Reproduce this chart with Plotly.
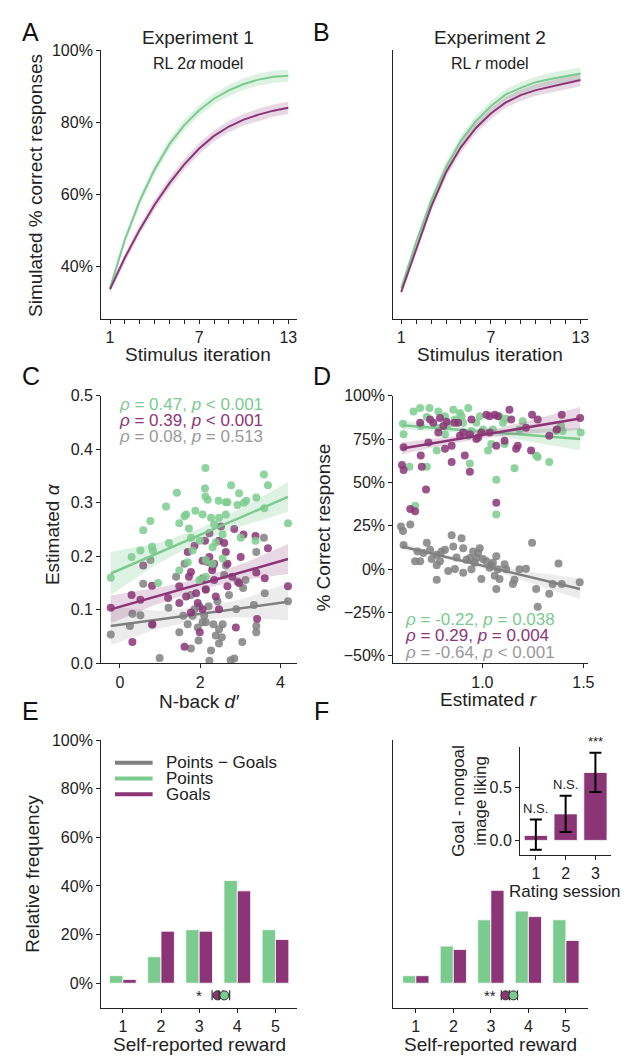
import plotly.graph_objects as go
import numpy as np

W, H = 629, 1056
def px(x): return x / W
def py(y): return 1 - y / H

GREEN = "#7bcb8e"; PURPLE = "#8b3577"; GRAY = "#808080"
GREEN_F = "rgba(123,203,142,0.25)"; PURPLE_F = "rgba(139,53,119,0.2)"; GRAY_F = "rgba(128,128,128,0.15)"
FONT = "Liberation Sans"
AX = "#222222"

# ---------------- Panel A / B data ----------------
iters = list(range(1, 14))
a_green = [34.0, 47.5, 58.3, 67.0, 74.0, 79.3, 83.4, 86.6, 88.9, 90.7, 91.9, 92.7, 93.0]
a_purple = [33.8, 42.5, 50.3, 57.2, 63.2, 68.4, 72.8, 76.3, 78.9, 80.8, 82.2, 83.3, 84.1]
b_green = [34.1, 46.8, 58.3, 67.7, 75.0, 80.4, 84.5, 87.8, 89.6, 91.2, 92.1, 92.9, 93.6]
b_purple = [33.0, 45.0, 56.6, 66.2, 73.2, 78.5, 82.5, 85.6, 87.6, 89.0, 90.0, 90.9, 91.8]
sem_ab = [1.0, 1.2, 1.3, 1.4, 1.5, 1.5, 1.5, 1.5, 1.6, 1.6, 1.7, 1.7, 1.7]
iter_ticktext = ["1", "", "", "", "", "", "7", "", "", "", "", "", "13"]
a_yticks = [40, 60, 80, 100]
a_yticktext = ["40%", "60%", "80%", "100%"]

# ---------------- Panel C data ----------------
c_green_x = [-0.23, 0.29, 0.51, 0.58, 0.76, 0.80, 1.15, 1.22, 1.42, 1.48, 1.61, 1.72, 1.65, 1.88, 1.77, 2.13, 2.12,
             2.13, 2.19, 2.06, 2.27, 2.46, 2.64, 2.68, 2.77, 2.97, 2.93, 3.09, 3.15, 3.40, 3.59, 3.69, 3.60, 4.19,
             2.47, 2.64, 1.99, 2.31, 2.39, 2.56, 3.01, 3.38, 1.69, 1.81, 2.14, 2.31, 2.56, 1.48, 0.95, 0.82, 2.14,
             1.98, 2.35]
c_green_y = [0.160, 0.199, 0.211, 0.249, 0.266, 0.218, 0.293, 0.225, 0.319, 0.262, 0.275, 0.252, 0.278, 0.285, 0.235,
             0.365, 0.327, 0.312, 0.306, 0.278, 0.272, 0.304, 0.301, 0.301, 0.333, 0.318, 0.296, 0.300, 0.304, 0.310,
             0.353, 0.333, 0.290, 0.262, 0.272, 0.278, 0.229, 0.217, 0.226, 0.241, 0.235, 0.229, 0.189, 0.211, 0.193,
             0.186, 0.196, 0.174, 0.150, 0.211, 0.162, 0.156, 0.260]
c_purple_x = [-0.23, 0.29, 0.31, 0.58, 0.51, 0.80, 0.81, 1.20, 1.48, 1.61, 1.69, 1.72, 1.77, 1.65, 1.86, 1.90, 1.94,
              2.06, 2.12, 2.23, 2.23, 2.30, 2.35, 2.35, 2.47, 2.52, 2.60, 2.64, 2.68, 2.68, 2.85, 3.01, 3.08, 2.89,
              3.38, 3.40, 3.42, 3.69, 3.61, 4.19, 1.99, 2.14, 2.39, 2.80, 1.48, 1.77, 2.47, 2.97, 2.06]
c_purple_y = [0.104, 0.128, 0.040, 0.183, 0.119, 0.145, 0.073, 0.122, 0.144, 0.031, 0.208, 0.162, 0.171, 0.125,
              0.220, 0.131, 0.113, 0.101, 0.229, 0.243, 0.199, 0.174, 0.186, 0.156, 0.229, 0.256, 0.225, 0.208,
              0.186, 0.144, 0.251, 0.199, 0.241, 0.067, 0.238, 0.170, 0.083, 0.215, 0.159, 0.144, 0.058, 0.138,
              0.125, 0.162, 0.113, 0.095, 0.101, 0.150, 0.192]
c_gray_x = [-0.23, 0.25, 0.31, 0.51, 0.58, 0.76, 0.80, 0.99, 1.21, 1.40, 1.48, 1.58, 1.61, 1.69, 1.77, 1.81, 1.86,
            1.94, 1.96, 1.98, 2.06, 2.10, 2.14, 2.19, 2.21, 2.23, 2.27, 2.31, 2.33, 2.39, 2.43, 2.47, 2.54, 2.56,
            2.60, 2.64, 2.72, 2.76, 2.85, 2.90, 2.93, 3.05, 3.07, 3.13, 3.34, 3.40, 3.40, 3.40, 3.59, 3.61, 4.19,
            1.77, 2.06, 2.14, 2.47]
c_gray_y = [0.054, 0.070, 0.093, 0.090, 0.149, 0.193, 0.072, 0.010, 0.104, 0.162, 0.058, 0.089, 0.186, 0.073, 0.128,
            0.089, 0.101, 0.067, 0.043, 0.107, 0.159, 0.089, 0.138, 0.189, 0.107, 0.005, 0.024, 0.180, 0.073, 0.052,
            0.116, 0.037, 0.049, 0.073, 0.165, 0.183, 0.128, 0.006, 0.009, 0.101, 0.153, 0.040, 0.141, 0.156, 0.109,
            0.208, 0.070, 0.058, 0.235, 0.131, 0.116, 0.028, 0.077, 0.077, 0.064]
c_fit_x = [-0.23, 4.19]
c_fit_green = [0.168, 0.311]
c_fit_purple = [0.101, 0.195]
c_fit_gray = [0.070, 0.115]
c_ci_x = [-0.23, 1.0, 2.0, 3.0, 4.19]
c_ci_green = [0.040, 0.018, 0.012, 0.016, 0.028]
c_ci_purple = [0.026, 0.014, 0.010, 0.014, 0.028]
c_ci_gray = [0.036, 0.016, 0.011, 0.016, 0.035]
c_yticks = [0.0, 0.1, 0.2, 0.3, 0.4, 0.5]
c_xticks = [0, 2, 4]

# ---------------- Panel D data ----------------
d_green_x = [0.607, 0.610, 0.639, 0.659, 0.692, 0.695, 0.725, 0.667, 0.725, 0.738, 0.774, 0.782, 0.815, 0.831,
             0.856, 0.889, 0.930, 0.905, 0.946, 0.938, 0.970, 0.987, 1.003, 1.028, 1.044, 1.052, 1.069, 1.069,
             1.085, 1.102, 1.110, 1.159, 1.184, 1.200, 1.266, 1.274, 1.331, 1.364, 1.389, 1.397, 1.487, 0.864,
             0.897, 0.782, 0.815, 0.930, 1.115]
d_green_y = [83.8, 77.8, 59.0, 91.0, 92.9, 82.5, 59.0, 36.5, 87.8, 92.9, 68.4, 91.0, 88.2, 83.5, 91.9, 90.0, 92.9,
             84.4, 79.7, 60.9, 84.4, 88.2, 80.6, 68.4, 72.2, 80.6, 51.5, 31.4, 88.2, 84.4, 72.2, 58.1, 80.6, 85.3,
             65.6, 64.7, 61.8, 79.7, 82.5, 79.7, 78.8, 86.3, 88.2, 81.6, 77.8, 76.9, 86.7]
d_purple_x = [0.602, 0.610, 0.643, 0.667, 0.610, 0.692, 0.700, 0.695, 0.721, 0.733, 0.741, 0.757, 0.782, 0.790,
              0.807, 0.815, 0.848, 0.848, 0.880, 0.889, 0.905, 0.913, 0.938, 0.946, 0.970, 0.979, 0.995, 1.020,
              1.036, 1.061, 1.069, 1.069, 1.077, 1.110, 1.134, 1.143, 1.167, 1.175, 1.216, 1.241, 1.246, 1.274,
              1.331, 1.369, 1.393, 1.484, 0.823, 0.862, 0.938, 1.036]
d_purple_y = [60.0, 57.1, 34.6, 33.3, 70.3, 84.4, 59.0, 65.6, 45.9, 73.1, 86.3, 84.4, 78.8, 87.2, 82.5, 69.4, 71.2,
              61.8, 84.4, 76.9, 78.8, 65.6, 56.2, 86.3, 75.0, 75.9, 78.8, 89.1, 88.2, 89.1, 71.2, 38.3, 88.2, 74.0,
              91.9, 86.3, 69.4, 71.2, 81.6, 68.4, 89.1, 86.3, 76.9, 80.6, 89.1, 87.2, 85.0, 84.4, 77.8, 78.8]
d_gray_x = [0.597, 0.607, 0.643, 0.610, 0.667, 0.692, 0.679, 0.708, 0.725, 0.741, 0.749, 0.774, 0.774, 0.790,
            0.798, 0.815, 0.831, 0.848, 0.856, 0.864, 0.872, 0.897, 0.905, 0.905, 0.921, 0.938, 0.954, 0.962,
            0.979, 0.987, 0.995, 1.003, 1.020, 1.036, 1.052, 1.061, 1.069, 1.069, 1.077, 1.085, 1.110, 1.118,
            1.151, 1.159, 1.184, 1.216, 1.246, 1.266, 1.274, 1.331, 1.348, 1.377, 1.393, 1.482, 0.946, 0.970,
            1.044, 0.774]
d_gray_y = [24.6, 22.0, 25.7, 13.9, 4.5, 4.5, 10.1, 9.2, 15.2, 11.1, 5.8, -6.2, 8.3, 4.5, 10.1, 11.1, -1.1, 19.5,
            13.0, 0.0, 6.6, 17.8, 12.0, -2.1, 5.4, 6.4, 10.1, 3.6, 9.2, 12.0, -5.8, 5.8, 4.5, 0.7, 3.6, -3.9, 7.4,
            -11.5, -0.2, -5.8, 2.7, -0.2, -8.6, -6.2, -0.2, 0.2, 15.2, -11.5, -21.8, -14.3, -8.6, 3.2, -8.6, -7.7,
            -0.2, 6.4, 2.1, 2.1]
d_fit_x = [0.602, 1.484]
d_fit_green = [83.0, 75.0]
d_fit_purple = [69.6, 86.9]
d_fit_gray = [13.0, -11.5]
d_ci_x = [0.602, 0.8, 1.0, 1.2, 1.484]
d_ci_green = [2.6, 1.6, 1.6, 3.0, 6.5]
d_ci_purple = [3.4, 2.0, 1.8, 3.2, 6.6]
d_ci_gray = [1.8, 1.2, 1.2, 2.6, 6.0]
d_yticks = [-50, -25, 0, 25, 50, 75, 100]
d_yticktext = ["\u221250%", "\u221225%", "0%", "25%", "50%", "75%", "100%"]
d_xticks = [1.0, 1.5]
d_xticktext = ["1.0", "1.5"]

# ---------------- Panel E / F data ----------------
rewards = [1, 2, 3, 4, 5]
e_points = [3.1, 10.9, 22.0, 42.3, 22.0]
e_goals = [1.5, 21.4, 21.4, 38.0, 18.0]
f_points = [3.1, 15.3, 26.1, 29.7, 26.1]
f_goals = [3.1, 13.9, 38.2, 27.4, 17.6]
e_mean_goals, e_mean_points, e_err = 3.48, 3.66, 0.14
f_mean_goals, f_mean_points, f_err = 3.39, 3.60, 0.11
sig_e, sig_f = "*", "**"
e_yticks = [0, 20, 40, 60, 80, 100]
e_yticktext = ["0%", "20%", "40%", "60%", "80%", "100%"]

# inset
sessions = [1, 2, 3]
liking = [0.047, 0.25, 0.64]
liking_hi = [0.196, 0.42, 0.826]
liking_lo = [-0.087, 0.08, 0.457]
liking_sig = ["N.S.", "N.S.", "***"]
inset_yticks = [0.0, 0.5]
inset_yticktext = ["0.0", "0.5"]

fig = go.Figure()

TICKFONT = dict(size=16, color=AX, family=FONT)

def axis_style(**kw):
    d = dict(showline=True, linecolor=AX, linewidth=1, ticks="outside", ticklen=4, tickwidth=1, tickcolor=AX,
             tickfont=TICKFONT, showgrid=False, zeroline=False, tickmode="array")
    d.update(kw)
    return d

layout_axes = {}
layout_axes["xaxis"] = axis_style(domain=[px(94), px(292)], anchor="y", range=[0.4, 13.6], tickvals=iters, ticktext=iter_ticktext)
layout_axes["yaxis"] = axis_style(domain=[py(308), py(35)], anchor="x", range=[25.5, 100], tickvals=a_yticks, ticktext=a_yticktext)
layout_axes["xaxis2"] = axis_style(domain=[px(389), px(586)], anchor="y2", range=[0.47, 13.53], tickvals=iters, ticktext=iter_ticktext)
layout_axes["yaxis2"] = axis_style(domain=[py(308), py(35)], anchor="x2", range=[25.5, 100], ticks="", showticklabels=False)
layout_axes["xaxis3"] = axis_style(domain=[px(94), px(292)], anchor="y3", range=[-0.47, 4.42], tickvals=c_xticks, ticktext=[str(v) for v in c_xticks])
layout_axes["yaxis3"] = axis_style(domain=[py(658), py(386)], anchor="x3", range=[0, 0.5], tickvals=c_yticks, ticktext=["%.1f" % v for v in c_yticks])
layout_axes["xaxis4"] = axis_style(domain=[px(389), px(586)], anchor="y4", range=[0.559, 1.525], tickvals=d_xticks, ticktext=d_xticktext)
layout_axes["yaxis4"] = axis_style(domain=[py(658), py(386)], anchor="x4", range=[-54.5, 100], tickvals=d_yticks, ticktext=d_yticktext)
layout_axes["xaxis5"] = axis_style(domain=[px(94), px(292)], anchor="y5", range=[0.43, 5.57], tickvals=rewards, ticktext=[str(r) for r in rewards])
layout_axes["yaxis5"] = axis_style(domain=[py(1008), py(736)], anchor="x5", range=[-10.1, 100], tickvals=e_yticks, ticktext=e_yticktext)
layout_axes["xaxis6"] = axis_style(domain=[px(389), px(586)], anchor="y6", range=[0.4, 5.6], tickvals=rewards, ticktext=[str(r) for r in rewards])
layout_axes["yaxis6"] = axis_style(domain=[py(1008), py(736)], anchor="x6", range=[-10.1, 100], ticks="", showticklabels=False)
layout_axes["xaxis7"] = axis_style(domain=[px(517), px(609)], anchor="y7", range=[0.47, 3.53], tickvals=sessions, ticktext=[str(s) for s in sessions])
layout_axes["yaxis7"] = axis_style(domain=[py(853), py(743)], anchor="x7", range=[-0.14, 0.88], tickvals=inset_yticks, ticktext=inset_yticktext)

def band(xs, ys, err, fill, xa, ya):
    ys = np.array(ys); err = np.array(err)
    up = ys + err; lo = ys - err
    fig.add_trace(go.Scatter(x=list(xs) + list(xs)[::-1], y=list(up) + list(lo)[::-1], fill="toself",
                             fillcolor=fill, line=dict(width=0), mode="lines", hoverinfo="skip",
                             showlegend=False, xaxis=xa, yaxis=ya))

for (g, p, xa, ya) in [(a_green, a_purple, "x", "y"), (b_green, b_purple, "x2", "y2")]:
    band(iters, g, sem_ab, GREEN_F, xa, ya)
    band(iters, p, sem_ab, PURPLE_F, xa, ya)
    fig.add_trace(go.Scatter(x=iters, y=g, mode="lines", line=dict(color=GREEN, width=2), showlegend=False, xaxis=xa, yaxis=ya))
    fig.add_trace(go.Scatter(x=iters, y=p, mode="lines", line=dict(color=PURPLE, width=2), showlegend=False, xaxis=xa, yaxis=ya))

def scatter_fit(sx, sy, color, fill, fit_x, fit_y, ci_x, ci_w, xa, ya):
    fig.add_trace(go.Scatter(x=sx, y=sy, mode="markers", marker=dict(color=color, size=8, opacity=0.85, line=dict(width=0)),
                             showlegend=False, xaxis=xa, yaxis=ya))
    xs = np.linspace(fit_x[0], fit_x[1], 40)
    ys = np.interp(xs, fit_x, fit_y)
    ws = np.interp(xs, ci_x, ci_w)
    band(xs, ys, ws, fill, xa, ya)
    fig.add_trace(go.Scatter(x=xs, y=ys, mode="lines", line=dict(color=color, width=2.5), showlegend=False, xaxis=xa, yaxis=ya))

scatter_fit(c_gray_x, c_gray_y, GRAY, GRAY_F, c_fit_x, c_fit_gray, c_ci_x, c_ci_gray, "x3", "y3")
scatter_fit(c_purple_x, c_purple_y, PURPLE, PURPLE_F, c_fit_x, c_fit_purple, c_ci_x, c_ci_purple, "x3", "y3")
scatter_fit(c_green_x, c_green_y, GREEN, GREEN_F, c_fit_x, c_fit_green, c_ci_x, c_ci_green, "x3", "y3")

scatter_fit(d_gray_x, d_gray_y, GRAY, GRAY_F, d_fit_x, d_fit_gray, d_ci_x, d_ci_gray, "x4", "y4")
scatter_fit(d_green_x, d_green_y, GREEN, GREEN_F, d_fit_x, d_fit_green, d_ci_x, d_ci_green, "x4", "y4")
scatter_fit(d_purple_x, d_purple_y, PURPLE, PURPLE_F, d_fit_x, d_fit_purple, d_ci_x, d_ci_purple, "x4", "y4")

for (pts, gls, mg, mp, er, xa, ya) in [(e_points, e_goals, e_mean_goals, e_mean_points, e_err, "x5", "y5"),
                                       (f_points, f_goals, f_mean_goals, f_mean_points, f_err, "x6", "y6")]:
    fig.add_trace(go.Bar(x=rewards, y=pts, width=0.35, offset=-0.35, marker=dict(color=GREEN, line=dict(color="white", width=0.8)),
                         showlegend=False, xaxis=xa, yaxis=ya))
    fig.add_trace(go.Bar(x=rewards, y=gls, width=0.35, offset=0.0, marker=dict(color=PURPLE, line=dict(color="white", width=0.8)),
                         showlegend=False, xaxis=xa, yaxis=ya))
    for m, c in [(mg, PURPLE), (mp, GREEN)]:
        fig.add_trace(go.Scatter(x=[m], y=[-5], mode="markers",
                                 error_x=dict(type="constant", value=er, color="#333333", thickness=1.2, width=5),
                                 marker=dict(color=c, size=9, line=dict(color="#333333", width=1)),
                                 showlegend=False, xaxis=xa, yaxis=ya))

fig.add_trace(go.Bar(x=sessions, y=liking, width=0.78, marker=dict(color=PURPLE, line=dict(color="white", width=0.8)),
                     error_y=dict(type="data", symmetric=False,
                                  array=[h - v for h, v in zip(liking_hi, liking)],
                                  arrayminus=[v - l for v, l in zip(liking, liking_lo)],
                                  color="black", thickness=2, width=6),
                     showlegend=False, xaxis="x7", yaxis="y7"))

annotations = []
def ann(text, x, y, size, color=AX, angle=0, xanchor="center", yanchor="middle", xref="paper", yref="paper"):
    annotations.append(dict(text=text, x=x, y=y, xref=xref, yref=yref, showarrow=False, textangle=angle,
                            xanchor=xanchor, yanchor=yanchor, font=dict(size=size, color=color, family=FONT)))

for L, x, y in [("A", 23, 16), ("B", 317, 16), ("C", 23, 366), ("D", 317, 366), ("E", 23, 706), ("F", 317, 706)]:
    ann(L, px(x), py(y), 25, color="#111111")

ann("Experiment 1", px(192), py(22), 19)
ann("RL 2<i>\u03b1</i> model", px(192), py(48), 16)
ann("Experiment 2", px(487), py(22), 19)
ann("RL <i>r</i> model", px(487), py(48), 16)

ann("Simulated % correct responses", px(27), py(172), 19, angle=-90)
ann("Stimulus iteration", px(192), py(344), 19)
ann("Stimulus iteration", px(487), py(344), 19)
ann("Estimated <i>\u03b1</i>", px(45), py(527), 19, angle=-90)
ann("N-back <i>d\u2032</i>", px(193), py(697), 19)
ann("% Correct response", px(319), py(520), 19, angle=-90)
ann("Estimated <i>r</i>", px(485), py(695), 19)
ann("Relative frequency", px(25), py(872), 19, angle=-90)
ann("Self-reported reward", px(193), py(1045), 19)
ann("Self-reported reward", px(487), py(1045), 19)
ann("Goal - nongoal<br>image liking", px(466), py(798), 17, angle=-90)
ann("Rating session", px(562), py(890), 17)

ann("<i>\u03c1</i> = 0.47, <i>p</i> &lt; 0.001", px(110), py(395), 17, color=GREEN, xanchor="left")
ann("<i>\u03c1</i> = 0.39, <i>p</i> &lt; 0.001", px(110), py(411), 17, color=PURPLE, xanchor="left")
ann("<i>\u03c1</i> = 0.08, <i>p</i> = 0.513", px(110), py(427), 17, color="#999999", xanchor="left")
ann("<i>\u03c1</i> = -0.22, <i>p</i> = 0.038", px(399), py(613), 17, color=GREEN, xanchor="left")
ann("<i>\u03c1</i> = 0.29, <i>p</i> = 0.004", px(399), py(630), 17, color=PURPLE, xanchor="left")
ann("<i>\u03c1</i> = -0.64, <i>p</i> &lt; 0.001", px(399), py(647), 17, color="#999999", xanchor="left")

annotations.append(dict(text=sig_e, x=3.0, y=-5, xref="x5", yref="y5", showarrow=False, font=dict(size=15, color=AX, family=FONT)))
annotations.append(dict(text=sig_f, x=2.97, y=-5, xref="x6", yref="y6", showarrow=False, font=dict(size=15, color=AX, family=FONT)))
for s, lab, hi in zip(sessions, liking_sig, liking_hi):
    annotations.append(dict(text=lab, x=s, y=hi, xref="x7", yref="y7", showarrow=False, yanchor="bottom", yshift=2,
                            font=dict(size=13, color=AX, family=FONT)))

shapes = []
for label, col, y in [("Points \u2212 Goals", GRAY, 759), ("Points", GREEN, 775), ("Goals", PURPLE, 791)]:
    shapes.append(dict(type="line", xref="paper", yref="paper", x0=px(108), x1=px(146), y0=py(y), y1=py(y),
                       line=dict(color=col, width=4)))
    ann(label, px(158), py(y), 17, xanchor="left")

fig.update_layout(width=W, height=H, margin=dict(l=0, r=0, t=0, b=0), autosize=False,
                  paper_bgcolor="white", plot_bgcolor="white", barmode="overlay",
                  font=dict(family=FONT, color=AX, size=16), showlegend=False,
                  annotations=annotations, shapes=shapes, **layout_axes)
fig.update_xaxes(tickfont=TICKFONT)
fig.update_yaxes(tickfont=TICKFONT)

fig.write_html("out.html")
